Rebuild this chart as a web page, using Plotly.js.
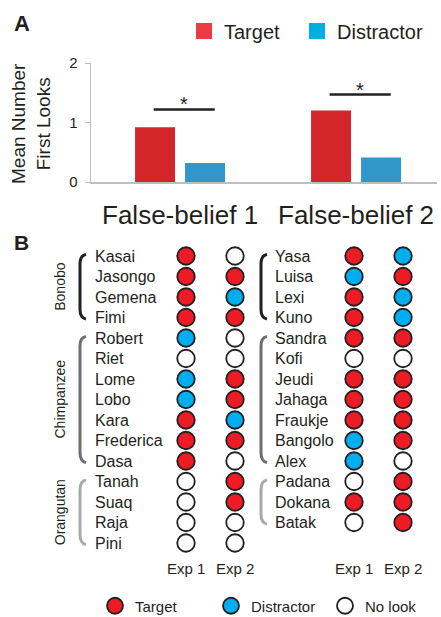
<!DOCTYPE html>
<html>
<head>
<meta charset="utf-8">
<script src="https://cdn.plot.ly/plotly-3.0.1.min.js"></script>
<style>html,body{margin:0;padding:0;background:#fff;}#chart{width:441px;height:617px;}</style>
</head>
<body>
<div id="chart"></div>
<script>
// ---------- Panel A data ----------
const categories = ['False-belief 1', 'False-belief 2'];
const targetMeans = [0.92, 1.20];
const distractorMeans = [0.32, 0.41];
const sigLevels = [1.22, 1.47];
const sigLabels = ['*', '*'];
const yTicks = [0, 1, 2];
const seriesNames = ['Target', 'Distractor'];

// ---------- Panel B data ----------
// T = Target, D = Distractor, N = No look
const leftApes = ['Kasai','Jasongo','Gemena','Fimi','Robert','Riet','Lome','Lobo','Kara','Frederica','Dasa','Tanah','Suaq','Raja','Pini'];
const leftExp1 = ['T','T','T','T','D','N','D','D','T','T','T','N','N','N','N'];
const leftExp2 = ['N','T','D','T','N','N','T','T','D','T','N','T','T','N','N'];
const rightApes = ['Yasa','Luisa','Lexi','Kuno','Sandra','Kofi','Jeudi','Jahaga','Fraukje','Bangolo','Alex','Padana','Dokana','Batak'];
const rightExp1 = ['T','D','T','T','T','N','T','T','T','D','D','N','T','N'];
const rightExp2 = ['D','T','D','D','T','N','T','T','T','T','N','T','T','T'];
const speciesNames = ['Bonobo', 'Chimpanzee', 'Orangutan'];
const leftGroupSizes = [4, 7, 4];
const rightGroupSizes = [4, 7, 3];
const expLabels = ['Exp 1', 'Exp 2'];
const outcomeCodes = ['T', 'D', 'N'];
const outcomeNames = ['Target', 'Distractor', 'No look'];

// ---------- styles / layout constants ----------
const W = 441, H = 617;
const TXT = '#231f20';
const FONT = 'Liberation Sans, Arial, Helvetica, sans-serif';
const barColors = ['#d2262a', '#3197cb'];
const legendSquareColors = ['#ee3a43', '#00aee0'];
const dotColors = {T: '#ed1c24', D: '#00aeef', N: '#ffffff'};
const bracketColors = ['#231f20', '#6d6e71', '#a7a9ac'];
const colX = [186, 235, 354, 403];       // panel B column centres (x2 units = px)
const nameX = [93, 273];
const bracketX = [80, 261];
const speciesLabelX = 60;
const y2Range = [17.609, -12.488];       // rows: 0 at top
const expLabelRow = 15.22;
const legendAX = [184, 297];             // px, left edge of each legend box (panel A)
const legendBX = [95, 211, 325];         // px (panel B)
const legendAY = 31, legendBY = 606;

const traces = [];
// bars
traces.push({type:'bar', x: categories, y: targetMeans, name: seriesNames[0], marker:{color: barColors[0], line:{width:0}}, showlegend:false, xaxis:'x', yaxis:'y', hoverinfo:'skip'});
traces.push({type:'bar', x: categories, y: distractorMeans, name: seriesNames[1], marker:{color: barColors[1], line:{width:0}}, showlegend:false, xaxis:'x', yaxis:'y', hoverinfo:'skip'});
// legend entries for panel A
seriesNames.forEach((n, i) => {
  traces.push({type:'scatter', mode:'markers', x:[null], y:[null], name:n, legend: i === 0 ? 'legend' : 'legend2',
    marker:{symbol:'square', size:16, color: legendSquareColors[i], line:{width:0}}, xaxis:'x', yaxis:'y'});
});

// dots
const columns = [
  {codes: leftExp1, x: colX[0]}, {codes: leftExp2, x: colX[1]},
  {codes: rightExp1, x: colX[2]}, {codes: rightExp2, x: colX[3]}
];
outcomeCodes.forEach((code, k) => {
  const xs = [], ys = [];
  columns.forEach(col => col.codes.forEach((c, r) => { if (c === code) { xs.push(col.x); ys.push(r); } }));
  traces.push({type:'scatter', mode:'markers', x: xs, y: ys, name: outcomeNames[k], legend: 'legend' + (k + 3),
    xaxis:'x2', yaxis:'y2', hoverinfo:'skip',
    marker:{symbol:'circle', size:17.5, color: dotColors[code], line:{color:'#231f20', width:1.8}}});
});

const annotations = [];
const shapes = [];

// panel labels
annotations.push({xref:'paper', yref:'paper', x:12/W, y:1-24/H, xanchor:'left', yanchor:'middle', text:'<b>A</b>', showarrow:false, font:{size:22, color:TXT, family:FONT}});
annotations.push({xref:'paper', yref:'paper', x:12/W, y:1-242/H, xanchor:'left', yanchor:'middle', text:'<b>B</b>', showarrow:false, font:{size:21, color:TXT, family:FONT}});
// y-axis title
annotations.push({xref:'paper', yref:'paper', x:31/W, y:1-124/H, xanchor:'center', yanchor:'middle', textangle:-90,
  text:'Mean Number<br>First Looks', showarrow:false, font:{size:19, color:TXT, family:FONT}});

// significance bars
categories.forEach((c, i) => {
  shapes.push({type:'line', xref:'x', yref:'y', x0: i - 0.15, x1: i + 0.197, y0: sigLevels[i], y1: sigLevels[i], line:{color:'#231f20', width:2.5}});
  annotations.push({xref:'x', yref:'y', x: i + 0.024, y: sigLevels[i], xanchor:'center', yanchor:'middle', yshift:5,
    text: sigLabels[i], showarrow:false, font:{size:20, color:TXT, family:FONT}});
});

// names
leftApes.forEach((n, r) => annotations.push({xref:'x2', yref:'y2', x:nameX[0], y:r, xanchor:'left', yanchor:'middle', text:n, showarrow:false, font:{size:16, color:TXT, family:FONT}}));
rightApes.forEach((n, r) => annotations.push({xref:'x2', yref:'y2', x:nameX[1], y:r, xanchor:'left', yanchor:'middle', text:n, showarrow:false, font:{size:16, color:TXT, family:FONT}}));

// brackets + species labels
function bracketPath(x, r0, r1) {
  return `M ${x+6},${r0-0.08} Q ${x},${r0-0.02} ${x},${r0+0.4} L ${x},${r1-0.4} Q ${x},${r1+0.02} ${x+6},${r1+0.08}`;
}
[[leftGroupSizes, bracketX[0], true], [rightGroupSizes, bracketX[1], false]].forEach(([sizes, bx, withLabel]) => {
  let start = 0;
  sizes.forEach((s, g) => {
    const end = start + s - 1;
    shapes.push({type:'path', xref:'x2', yref:'y2', path: bracketPath(bx, start, end), line:{color: bracketColors[g], width:3}});
    if (withLabel) {
      annotations.push({xref:'x2', yref:'y2', x: speciesLabelX, y: (start + end) / 2, textangle:-90, xanchor:'center', yanchor:'middle',
        text: speciesNames[g], showarrow:false, font:{size:14, color:TXT, family:FONT}});
    }
    start = end + 1;
  });
});

// exp labels
colX.forEach((x, i) => annotations.push({xref:'x2', yref:'y2', x:x, y:expLabelRow, xanchor:'center', yanchor:'middle',
  text: expLabels[i % 2], showarrow:false, font:{size:15, color:TXT, family:FONT}}));

function legendBox(xpx, ypx, size) {
  return {orientation:'h', xref:'container', yref:'container', x: xpx / W, xanchor:'left', y: 1 - ypx / H, yanchor:'middle',
    font:{size:size, color:TXT, family:FONT}, bgcolor:'rgba(0,0,0,0)', itemclick:false, itemdoubleclick:false};
}

const layout = {
  width: W, height: H,
  margin: {l:0, r:0, t:0, b:0, autoexpand:false},
  paper_bgcolor:'#ffffff', plot_bgcolor:'rgba(0,0,0,0)',
  font: {family: FONT, color: TXT},
  barmode:'group', bargap:0.432, bargroupgap:0.2,
  xaxis: {domain:[91/W, 437/W], anchor:'y', type:'category', range:[-0.506, 1.46],
    showline:true, linecolor:'#bcbec0', linewidth:1.5, ticks:'', showgrid:false, zeroline:false,
    tickfont:{size:26, color:TXT, family:FONT}, ticklabelstandoff:9, fixedrange:true},
  yaxis: {domain:[1-182/H, 1-63/H], anchor:'x', range:[0, 2], tickvals: yTicks, ticktext: yTicks.map(String),
    showline:true, linecolor:'#bcbec0', linewidth:1.5, ticks:'outside', ticklen:5, tickcolor:'#bcbec0', tickwidth:1,
    showgrid:false, zeroline:false, tickfont:{size:15, color:TXT, family:FONT}, ticklabelstandoff:4, fixedrange:true},
  xaxis2: {domain:[0,1], anchor:'y2', range:[0, W], visible:false, fixedrange:true},
  yaxis2: {domain:[0,1], anchor:'x2', range: y2Range, visible:false, fixedrange:true},
  legend: legendBox(legendAX[0], legendAY, 20),
  legend2: legendBox(legendAX[1], legendAY, 20),
  legend3: legendBox(legendBX[0], legendBY, 15),
  legend4: legendBox(legendBX[1], legendBY, 15),
  legend5: legendBox(legendBX[2], legendBY, 15),
  annotations: annotations,
  shapes: shapes,
  showlegend: true
};

Plotly.newPlot('chart', traces, layout, {displayModeBar:false, staticPlot:true});
</script>
</body>
</html>
